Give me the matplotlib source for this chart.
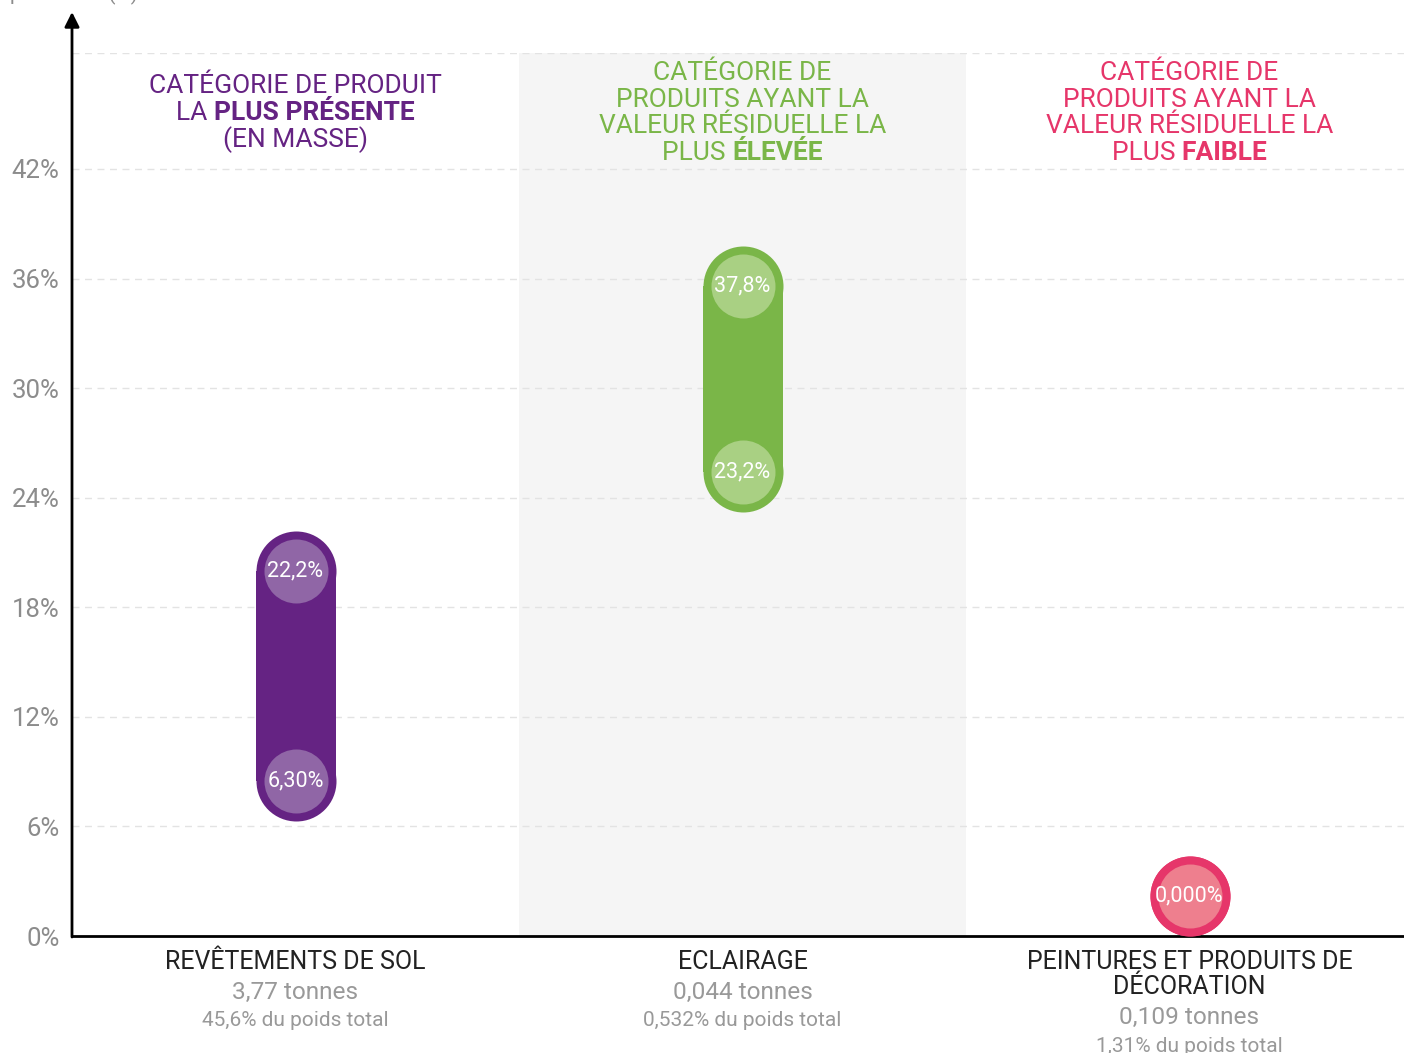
import matplotlib
matplotlib.use("Agg")
import matplotlib.pyplot as plt
import matplotlib.transforms as mtransforms

plt.rcParams['font.family'] = ['Roboto', 'DejaVu Sans']

# data
categories = [["REVÊTEMENTS DE SOL"], ["ECLAIRAGE"], ["PEINTURES ET PRODUITS DE", "DÉCORATION"]]
low = [6.30, 23.2, 0.0]
high = [22.2, 37.8, 0.0]
low_labels = ["6,30%", "23,2%", "0,000%"]
high_labels = ["22,2%", "37,8%", None]
tonnes = ["3,77 tonnes", "0,044 tonnes", "0,109 tonnes"]
shares = ["45,6% du poids total", "0,532% du poids total", "1,31% du poids total"]
yticks = [0, 6, 12, 18, 24, 30, 36, 42]

outer_cols = ["#652383", "#7ab648", "#e6366a"]
inner_cols = ["#9066a6", "#a9d083", "#ee7f8e"]

headings = [
    [[("CATÉGORIE DE PRODUIT", "normal")],
     [("LA ", "normal"), ("PLUS PRÉSENTE", "bold")],
     [("(EN MASSE)", "normal")]],
    [[("CATÉGORIE DE", "normal")],
     [("PRODUITS AYANT LA", "normal")],
     [("VALEUR RÉSIDUELLE LA", "normal")],
     [("PLUS ", "normal"), ("ÉLEVÉE", "bold")]],
    [[("CATÉGORIE DE", "normal")],
     [("PRODUITS AYANT LA", "normal")],
     [("VALEUR RÉSIDUELLE LA", "normal")],
     [("PLUS ", "normal"), ("FAIBLE", "bold")]],
]

W, H, DPI = 1404, 1053, 100
fig = plt.figure(figsize=(W / DPI, H / DPI), dpi=DPI)
ax_left, ax_right, ax_bot, ax_top = 72, 1413, 936, 53
ax = fig.add_axes([ax_left / W, 1 - ax_bot / H, (ax_right - ax_left) / W, (ax_bot - ax_top) / H])

ymax = 48.35
ax.set_xlim(-0.5, 2.5)
ax.set_ylim(0, ymax)
px = ymax / (ax_bot - ax_top)   # data units per pixel

# middle band
ax.axvspan(0.5, 1.5, color="#f5f5f5", zorder=0, lw=0)

# grid
for t in yticks[1:] + [ymax]:
    ax.axhline(t, color="#e3e3e3", lw=1, ls=(0, (5, 4)), zorder=0.5)

for s in ["top", "right", "left"]:
    ax.spines[s].set_visible(False)
ax.spines["bottom"].set_linewidth(2)
ax.spines["bottom"].set_color("black")
ax.set_xticks([])
ax.set_yticks(yticks)
ax.set_yticklabels([f"{t}%" for t in yticks])
ax.tick_params(axis="y", length=0, pad=9, labelsize=18.5, labelcolor="#8c8c8c")

# y axis arrow
ax.annotate("", xy=(ax_left / W, 1 - 12 / H), xytext=(ax_left / W, 1 - (ax_bot + 1) / H),
            xycoords="figure fraction", textcoords="figure fraction",
            arrowprops=dict(arrowstyle="-|>", lw=2, color="black", mutation_scale=22,
                            shrinkA=0, shrinkB=0))

# partially cut axis title
fig.text(10 / W, 1 + 6 / H, "premières (%)", fontsize=15, color="#8c8c8c", va="center")

r_out = 40 * px
lw_out = 80 * 72 / DPI
d_in = 64 * 72 / DPI
for i in range(3):
    a = low[i] + r_out
    b = max(high[i] - r_out, a)
    ax.vlines(i, a, b, color=outer_cols[i], lw=lw_out, zorder=3)
    ax.scatter([i, i], [a, b], s=lw_out ** 2, color=outer_cols[i], lw=0, zorder=3)
    ax.scatter([i], [a], s=d_in ** 2, color=inner_cols[i], lw=0, zorder=4)
    ax.text(i, a, low_labels[i], ha="center", va="center", color="white", fontsize=15.5, zorder=5)
    if high_labels[i]:
        ax.scatter([i], [b], s=d_in ** 2, color=inner_cols[i], lw=0, zorder=4)
        ax.text(i, b, high_labels[i], ha="center", va="center", color="white", fontsize=15.5, zorder=5)

# headings with mixed weights
renderer = fig.canvas.get_renderer()
blend = mtransforms.blended_transform_factory(ax.transData, fig.transFigure)
head_top = [86, 73, 73]
line_step = 26.7
for i in range(3):
    for k, parts in enumerate(headings[i]):
        y = 1 - (head_top[i] + k * line_step) / H
        texts = []
        for s, w in parts:
            t = fig.text(0, 0, s, fontsize=19, fontweight=w)
            texts.append(t)
        widths = [t.get_window_extent(renderer).width for t in texts]
        total = sum(widths)
        dx = -total / 2
        for t, wpx in zip(texts, widths):
            t.set_transform(mtransforms.offset_copy(blend, fig=fig, x=dx * 72 / DPI, y=0, units="points"))
            t.set_position((i, y))
            t.set_va("center")
            t.set_ha("left")
            t.set_color(outer_cols[i])
            dx += wpx

# bottom labels
for i in range(3):
    for k, line in enumerate(categories[i]):
        ax.text(i, 1 - (962 + k * 25) / H, line, transform=blend, ha="center", va="center",
                fontsize=18, color="#222222")
    yt = 992 + (len(categories[i]) - 1) * 25
    ax.text(i, 1 - yt / H, tonnes[i], transform=blend, ha="center", va="center",
            fontsize=17.6, color="#999999")
    ax.text(i, 1 - (yt + 29) / H, shares[i], transform=blend, ha="center", va="center",
            fontsize=15, color="#999999")

fig.savefig("out.png", dpi=DPI)
